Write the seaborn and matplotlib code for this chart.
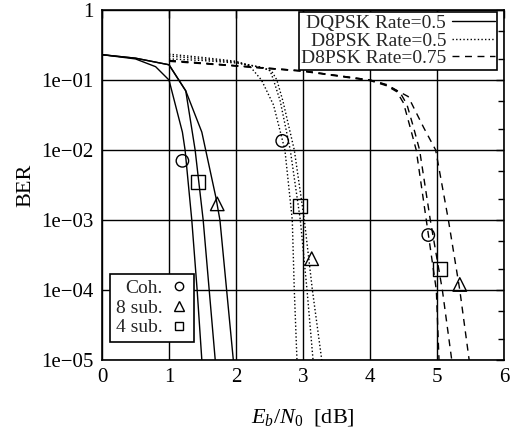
import matplotlib
matplotlib.use("Agg")
import matplotlib.pyplot as plt
import numpy as np
import pandas as pd
import seaborn as sns
from matplotlib.lines import Line2D
from matplotlib.ticker import FixedLocator, NullFormatter


# DQPSK rate 0.5 (solid): coherent, 4 sub, 8 sub
DQ_COH_X = [0.0, 0.5, 0.8, 1.0, 1.2, 1.24, 1.34, 1.42, 1.49]
DQ_COH_Y = [0.23, 0.2, 0.155, 0.1, 0.018, 1e-2, 1e-3, 1e-4, 1e-5]
DQ_4_X = [0.0, 0.5, 1.0, 1.25, 1.39, 1.51, 1.60, 1.69]
DQ_4_Y = [0.23, 0.205, 0.165, 0.07, 1e-2, 1e-3, 1e-4, 1e-5]
DQ_8_X = [0.0, 0.5, 1.0, 1.25, 1.49, 1.70, 1.76, 1.86, 1.96]
DQ_8_Y = [0.23, 0.205, 0.165, 0.07, 0.018, 2.1e-3, 1e-3, 1e-4, 1e-5]

# D8PSK rate 0.5 (dotted)
D8_COH_X = [1.0, 1.5, 2.0, 2.2, 2.38, 2.56, 2.73, 2.84, 2.87, 2.91]
D8_COH_Y = [0.234, 0.21, 0.185, 0.16, 0.1, 0.044, 1e-2, 1e-3, 1e-4, 1e-5]
D8_4_X = [1.0, 1.5, 2.0, 2.4, 2.51, 2.56, 2.66, 2.81, 2.96, 3.06, 3.15]
D8_4_Y = [0.22, 0.2, 0.18, 0.15, 0.135, 0.1, 0.05, 1e-2, 1e-3, 1e-4, 1e-5]
D8_8_X = [1.0, 1.5, 2.0, 2.4, 2.53, 2.61, 2.70, 2.87, 3.02, 3.14, 3.28]
D8_8_Y = [0.2, 0.19, 0.175, 0.15, 0.135, 0.1, 0.05, 1e-2, 1e-3, 1e-4, 1e-5]

# D8PSK rate 0.75 (dashed)
D875_COH_X = [1.0, 2.0, 3.0, 4.0, 4.2, 4.4, 4.5, 4.6, 4.69, 4.84, 4.99, 5.03]
D875_COH_Y = [0.19, 0.16, 0.135, 0.1, 0.088, 0.068, 0.047, 0.021, 1e-2, 1e-3, 1e-4, 1e-5]
D875_4_X = [1.0, 2.0, 3.0, 4.0, 4.25, 4.45, 4.55, 4.65, 4.74, 4.90, 5.08, 5.22]
D875_4_Y = [0.19, 0.16, 0.135, 0.1, 0.086, 0.066, 0.045, 0.021, 1e-2, 1e-3, 1e-4, 1e-5]
D875_8_X = [1.0, 2.0, 3.0, 4.0, 4.3, 4.57, 4.8, 4.98, 5.17, 5.34, 5.48]
D875_8_Y = [0.185, 0.158, 0.133, 0.098, 0.08, 0.058, 0.021, 1e-2, 1e-3, 1e-4, 1e-5]

# label markers placed next to the curves
CIRCLE_X = [1.2, 2.69, 4.87]
CIRCLE_Y = [7e-3, 1.35e-2, 6.1e-4]
SQUARE_X = [1.43, 2.95, 5.05]
SQUARE_Y = [3.5e-3, 1.6e-3, 2e-4]
TRIANGLE_X = [1.72, 3.13, 5.34]
TRIANGLE_Y = [1.7e-3, 2.8e-4, 1.2e-4]

Y_TICKS = [1, 1e-1, 1e-2, 1e-3, 1e-4, 1e-5]
Y_LABELS = ["1", "1e\u221201", "1e\u221202", "1e\u221203", "1e\u221204", "1e\u221205"]
X_TICKS = [0, 1, 2, 3, 4, 5, 6]

sns.set_theme(style="white")
plt.rcParams["font.family"] = ["Liberation Serif", "DejaVu Serif"]
plt.rcParams["mathtext.fontset"] = "custom"
plt.rcParams["mathtext.rm"] = "Liberation Serif"
plt.rcParams["mathtext.it"] = "Liberation Serif:italic"

fig = plt.figure(figsize=(5.18, 4.32), dpi=100)
ax = fig.add_axes([102 / 518, 1 - 360 / 432, 402 / 518, 350 / 432])

dotted = (0, (1, 1.6))
dashed = (0, (5, 4))
curves = [
    (DQ_COH_X, DQ_COH_Y, "-"),
    (DQ_4_X, DQ_4_Y, "-"),
    (DQ_8_X, DQ_8_Y, "-"),
    (D8_COH_X, D8_COH_Y, dotted),
    (D8_4_X, D8_4_Y, dotted),
    (D8_8_X, D8_8_Y, dotted),
    (D875_COH_X, D875_COH_Y, dashed),
    (D875_4_X, D875_4_Y, dashed),
    (D875_8_X, D875_8_Y, dashed),
]
for xs, ys, ls in curves:
    df = pd.DataFrame({"x": xs, "y": ys})
    sns.lineplot(data=df, x="x", y="y", ax=ax, color="black", linewidth=1.0,
                 linestyle=ls, sort=False, estimator=None, zorder=3)

for xs, ys, mk, ms in [(CIRCLE_X, CIRCLE_Y, "o", 80),
                       (SQUARE_X, SQUARE_Y, "s", 100),
                       (TRIANGLE_X, TRIANGLE_Y, "^", 95)]:
    sns.scatterplot(x=xs, y=ys, ax=ax, marker=mk, s=ms, facecolor="none",
                    edgecolor="black", linewidth=1.0, zorder=4)

ax.set_yscale("log")
ax.set_xlim(0, 6)
ax.set_ylim(1e-5, 1)
ax.set_xticks(X_TICKS)
ax.set_xticklabels([str(t) for t in X_TICKS])
ax.set_yticks(Y_TICKS)
ax.set_yticklabels(Y_LABELS)
minor = [m * 10.0 ** e for e in range(-5, 0) for m in (2, 5)]
ax.yaxis.set_minor_locator(FixedLocator(minor))
ax.yaxis.set_minor_formatter(NullFormatter())
ax.tick_params(axis="both", which="both", direction="in", top=True, right=True,
               colors="black", labelsize=15)
ax.tick_params(axis="both", which="major", length=6, width=1, pad=6)
ax.tick_params(axis="y", which="minor", length=4, width=1)
ax.grid(True, which="major", color="black", linewidth=1.0)
for sp in ax.spines.values():
    sp.set_color("black")
    sp.set_linewidth(1.2)

ax.set_xlabel("$E_b/N_0$  [dB]", fontsize=16, color="black", labelpad=14)
ax.set_ylabel("BER", fontsize=16, color="black", labelpad=4)

line_handles = [
    Line2D([], [], color="black", lw=1.0, ls="-"),
    Line2D([], [], color="black", lw=1.0, ls=dotted),
    Line2D([], [], color="black", lw=1.0, ls=dashed),
]
leg1 = ax.legend(line_handles, ["DQPSK Rate=0.5", "D8PSK Rate=0.5", "D8PSK Rate=0.75"],
                 loc="upper right", bbox_to_anchor=(0.983, 0.994), borderaxespad=0,
                 markerfirst=False, fontsize=14, frameon=True, fancybox=False,
                 framealpha=1, edgecolor="black", labelspacing=0.0, handlelength=2.2,
                 handletextpad=0.3, borderpad=0.12)
leg1.get_frame().set_linewidth(1.2)
for t in leg1.get_texts():
    t.set_ha("right")
ax.add_artist(leg1)

marker_handles = [
    Line2D([], [], ls="none", marker="o", mfc="none", mec="black", ms=6),
    Line2D([], [], ls="none", marker="^", mfc="none", mec="black", ms=7),
    Line2D([], [], ls="none", marker="s", mfc="none", mec="black", ms=6),
]
leg2 = ax.legend(marker_handles, ["Coh.", "8 sub.", "4 sub."], loc="lower left",
                 bbox_to_anchor=(0.02, 0.051), borderaxespad=0, markerfirst=False,
                 fontsize=14, frameon=True, fancybox=False, framealpha=1,
                 edgecolor="black", labelspacing=0.1, handlelength=0.9,
                 handletextpad=0.4, borderpad=0.3)
leg2.get_frame().set_linewidth(1.2)

fig.savefig("out.png", dpi=100)
